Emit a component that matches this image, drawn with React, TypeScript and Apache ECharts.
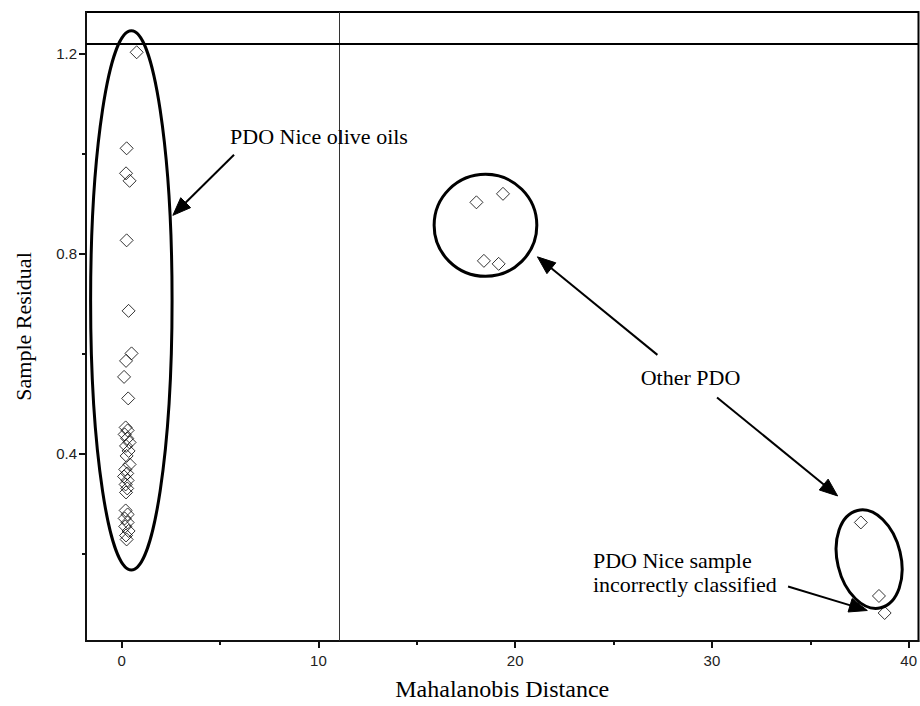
import React, { useEffect, useRef } from "react";
import * as echarts from "echarts";

// Axis ticks
const xMajorTicks = [0, 10, 20, 30, 40];
const xMinorTicks = [5, 15, 25, 35];
const yMajorTicks = [0.4, 0.8, 1.2];
const yMinorTicks = [0.2, 0.6, 1.0];

// Axis ranges
const xRange = [-1.815, 40.5];
const yRange = [0.025, 1.2825];

// Critical limits
const distanceLimit = 11.06;
const residualLimit = 1.223;

// Samples: [Mahalanobis distance, sample residual]
const pdoNice: [number, number][] = [
  [0.76, 1.202], [0.25, 1.01], [0.22, 0.96], [0.4, 0.945], [0.25, 0.826],
  [0.35, 0.685], [0.5, 0.6], [0.22, 0.585], [0.12, 0.553], [0.33, 0.51],
  [0.2, 0.452], [0.3, 0.446], [0.15, 0.438], [0.28, 0.43], [0.4, 0.422],
  [0.22, 0.415], [0.35, 0.405], [0.25, 0.395], [0.4, 0.378], [0.18, 0.368],
  [0.28, 0.36], [0.12, 0.354], [0.3, 0.346], [0.2, 0.338], [0.28, 0.33],
  [0.22, 0.322], [0.2, 0.286], [0.3, 0.278], [0.15, 0.27], [0.3, 0.262],
  [0.18, 0.254], [0.35, 0.245], [0.22, 0.236], [0.25, 0.228],
];
const otherPdoA: [number, number][] = [
  [18.03, 0.902], [19.38, 0.919], [18.41, 0.785], [19.16, 0.779],
];
const otherPdoB: [number, number][] = [[37.57, 0.262], [38.49, 0.115]];
const misclassified: [number, number][] = [[38.78, 0.081]];

// Annotation ellipses: [cx, cy, rx, ry, rotationDeg] in data units
const groupEllipses = [
  [0.49, 0.706, 2.07, 0.539, 0],
  [18.49, 0.856, 2.61, 0.102, 0],
  [37.99, 0.1887, 1.614, 0.1, 13.4],
];

// Annotation arrows: [x1, y1, x2(tip), y2(tip)]
const arrows = [
  [5.71, 0.997, 2.6, 0.876],
  [27.23, 0.597, 21.13, 0.793],
  [30.26, 0.512, 36.39, 0.315],
  [33.87, 0.134, 37.9, 0.086],
];

// Annotation texts
const noteTexts = ["PDO Nice olive oils", "Other PDO", "PDO Nice sample\nincorrectly classified"];
const notePositions = [
  [5.51, 1.0345],
  [26.38, 0.552],
  [23.95, 0.161],
];

const SANS = '"Liberation Sans", Arial, sans-serif';
const SERIF = '"Liberation Serif", "Times New Roman", serif';

export default function App() {
  const ref = useRef<HTMLDivElement>(null);

  useEffect(() => {
    if (!ref.current) return;
    const chart = echarts.init(ref.current, undefined, { renderer: "svg" });

    const diamondStyle = {
      color: "rgba(0,0,0,0)",
      borderColor: "#000",
      borderWidth: 1,
    };

    const scatter = (name: string, data: [number, number][]) => ({
      name,
      type: "scatter",
      xAxisIndex: 0,
      yAxisIndex: 0,
      data,
      symbol: "diamond",
      symbolSize: 13,
      itemStyle: diamondStyle,
      z: 5,
    });

    const option: any = {
      animation: false,
      backgroundColor: "#fff",
      grid: {
        left: 86,
        top: 12,
        right: -5,
        bottom: 60,
        show: true,
        borderColor: "#000",
        borderWidth: 2,
        backgroundColor: "transparent",
      },
      xAxis: [
        {
          type: "value",
          position: "bottom",
          min: xRange[0],
          max: xRange[1],
          name: "Mahalanobis Distance",
          nameLocation: "middle",
          nameGap: 36,
          nameTextStyle: { fontFamily: SERIF, fontSize: 24, color: "#000" },
          axisLine: { show: true, onZero: false, lineStyle: { color: "#111", width: 2 } },
          axisTick: { show: true, length: 7, customValues: xMajorTicks, lineStyle: { color: "#111", width: 2 } },
          axisLabel: {
            show: true,
            customValues: xMajorTicks,
            margin: 12,
            fontFamily: SANS,
            fontSize: 15,
            color: "#222",
            formatter: (v: number) => String(v),
          },
          splitLine: { show: false },
        },
        {
          type: "value",
          position: "bottom",
          min: xRange[0],
          max: xRange[1],
          axisLine: { show: false, onZero: false },
          axisTick: { show: true, length: 4, customValues: xMinorTicks, lineStyle: { color: "#111", width: 2 } },
          axisLabel: { show: false },
          splitLine: { show: false },
        },
      ],
      yAxis: [
        {
          type: "value",
          position: "left",
          min: yRange[0],
          max: yRange[1],
          name: "Sample Residual",
          nameLocation: "middle",
          nameGap: 52,
          nameTextStyle: { fontFamily: SERIF, fontSize: 22, color: "#000" },
          axisLine: { show: true, onZero: false, lineStyle: { color: "#111", width: 2 } },
          axisTick: { show: true, length: 7, customValues: yMajorTicks, lineStyle: { color: "#111", width: 2 } },
          axisLabel: {
            show: true,
            customValues: yMajorTicks,
            margin: 9,
            fontFamily: SANS,
            fontSize: 15,
            color: "#222",
            formatter: (v: number) => v.toFixed(1),
          },
          splitLine: { show: false },
        },
        {
          type: "value",
          position: "left",
          min: yRange[0],
          max: yRange[1],
          axisLine: { show: false, onZero: false },
          axisTick: { show: true, length: 4, customValues: yMinorTicks, lineStyle: { color: "#111", width: 2 } },
          axisLabel: { show: false },
          splitLine: { show: false },
        },
      ],
      series: [
        {
          ...scatter("PDO Nice", pdoNice),
          markLine: {
            silent: true,
            symbol: "none",
            label: { show: false },
            data: [
              { xAxis: distanceLimit, lineStyle: { color: "#333", width: 1, type: "solid" } },
              { yAxis: residualLimit, lineStyle: { color: "#000", width: 2, type: "solid" } },
            ],
          },
        },
        scatter("Other PDO A", otherPdoA),
        scatter("Other PDO B", otherPdoB),
        scatter("Misclassified", misclassified),
        {
          type: "custom",
          name: "ellipses",
          xAxisIndex: 0,
          yAxisIndex: 0,
          data: groupEllipses,
          encode: { x: 0, y: 1 },
          z: 4,
          renderItem: (params: any, api: any) => {
            const c = api.coord([api.value(0), api.value(1)]);
            const s = api.size([api.value(2), api.value(3)]);
            return {
              type: "ellipse",
              x: c[0],
              y: c[1],
              rotation: (api.value(4) * Math.PI) / 180,
              shape: { cx: 0, cy: 0, rx: s[0], ry: s[1] },
              style: { fill: "none", stroke: "#000", lineWidth: 3 },
            };
          },
        },
        {
          type: "custom",
          name: "arrows",
          xAxisIndex: 0,
          yAxisIndex: 0,
          data: arrows,
          encode: { x: [0, 2], y: [1, 3] },
          z: 4,
          renderItem: (params: any, api: any) => {
            const p1 = api.coord([api.value(0), api.value(1)]);
            const p2 = api.coord([api.value(2), api.value(3)]);
            const dx = p2[0] - p1[0];
            const dy = p2[1] - p1[1];
            const len = Math.sqrt(dx * dx + dy * dy);
            const ux = dx / len;
            const uy = dy / len;
            const L = 18;
            const W = 7;
            const bx = p2[0] - ux * L;
            const by = p2[1] - uy * L;
            return {
              type: "group",
              children: [
                {
                  type: "line",
                  shape: { x1: p1[0], y1: p1[1], x2: bx + ux * 2, y2: by + uy * 2 },
                  style: { stroke: "#000", lineWidth: 2 },
                },
                {
                  type: "polygon",
                  shape: {
                    points: [
                      [p2[0], p2[1]],
                      [bx - uy * W, by + ux * W],
                      [bx + uy * W, by - ux * W],
                    ],
                  },
                  style: { fill: "#000", stroke: "#000", lineWidth: 1 },
                },
              ],
            };
          },
        },
        {
          type: "custom",
          name: "notes",
          xAxisIndex: 0,
          yAxisIndex: 0,
          data: notePositions,
          encode: { x: 0, y: 1 },
          z: 6,
          renderItem: (params: any, api: any) => {
            const c = api.coord([api.value(0), api.value(1)]);
            return {
              type: "text",
              x: c[0],
              y: c[1],
              style: {
                text: noteTexts[params.dataIndex],
                fontFamily: SERIF,
                fontSize: 22,
                lineHeight: 24,
                fill: "#000",
                align: "left",
                verticalAlign: "middle",
              },
            };
          },
        },
      ],
    };

    chart.setOption(option);
    return () => chart.dispose();
  }, []);

  return (
    <div
      ref={ref}
      style={{ position: "fixed", left: 0, top: 0, width: 920, height: 706, background: "#fff" }}
    />
  );
}
